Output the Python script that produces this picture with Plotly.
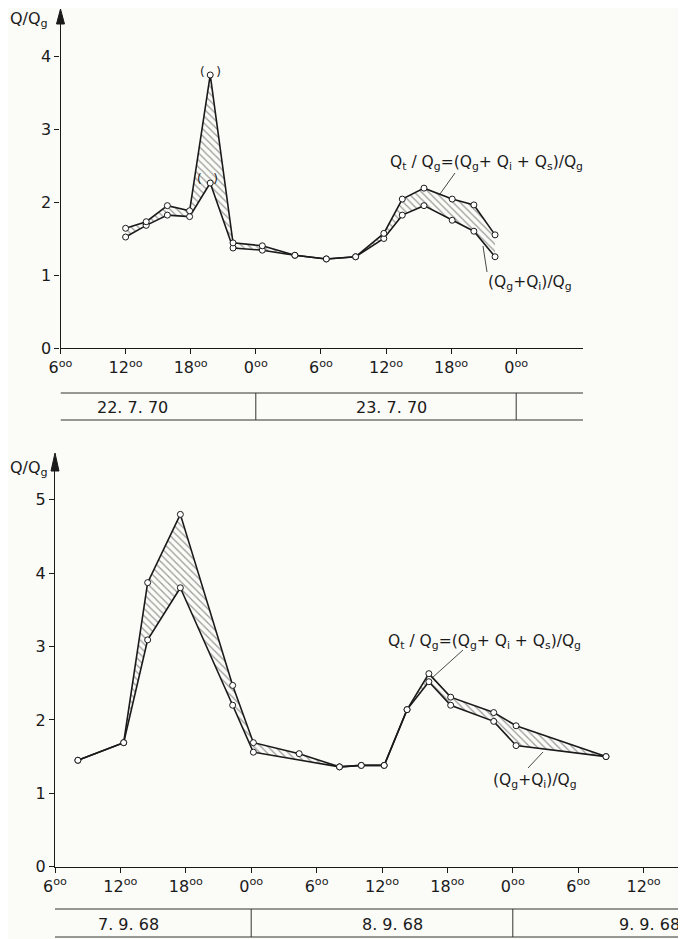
import plotly.graph_objects as go

# ---------------- data ----------------
# Top chart (22.7.70 - 23.7.70), hours counted from 0:00 of 22.7.70
top_hours = [12.0, 13.9, 15.85, 17.9, 19.8, 21.9, 24.6, 27.6, 30.5, 33.2, 35.8, 37.5, 39.5, 42.1, 44.1, 46.05]
top_lower = [1.52, 1.68, 1.82, 1.80, 2.26, 1.37, 1.34, 1.27, 1.22, 1.25, 1.50, 1.82, 1.95, 1.75, 1.60, 1.25]
top_upper = [1.64, 1.73, 1.95, 1.88, 3.74, 1.44, 1.40, 1.27, 1.22, 1.25, 1.57, 2.04, 2.19, 2.04, 1.96, 1.55]

# Bottom chart (7.9.68 - 9.9.68), hours counted from 0:00 of 7.9.68
bot_lower_hours = [8.1, 12.3, 14.5, 17.5, 22.3, 24.2, 32.1, 34.1, 36.2, 38.3, 40.3, 42.3, 46.25, 48.3, 56.55]
bot_lower = [1.45, 1.69, 3.09, 3.80, 2.20, 1.56, 1.36, 1.38, 1.38, 2.14, 2.52, 2.20, 1.98, 1.65, 1.50]
bot_upper_hours = [8.1, 12.3, 14.5, 17.5, 22.3, 24.2, 28.4, 32.1, 34.1, 36.2, 38.3, 40.3, 42.3, 46.25, 48.3, 56.55]
bot_upper = [1.45, 1.69, 3.87, 4.80, 2.47, 1.69, 1.54, 1.36, 1.38, 1.38, 2.14, 2.63, 2.31, 2.10, 1.92, 1.50]

top_tickvals = [6, 12, 18, 24, 30, 36, 42, 48]
top_ticklabels = ["6", "12", "18", "0", "6", "12", "18", "0"]
bot_tickvals = [6, 12, 18, 24, 30, 36, 42, 48, 54, 60]
bot_ticklabels = ["6", "12", "18", "0", "6", "12", "18", "0", "6", "12"]

top_dates = ["22. 7. 70", "23. 7. 70"]
top_date_pos = [12.6, 36.5]
top_day_breaks = [24, 48]
bot_dates = ["7. 9. 68", "8. 9. 68", "9. 9. 68"]
bot_date_pos = [12.7, 37.0, 60.5]
bot_day_breaks = [24, 48]

upper_label = "Q<sub>t</sub> / Q<sub>g</sub>=(Q<sub>g</sub>+ Q<sub>i</sub> + Q<sub>s</sub>)/Q<sub>g</sub>"
lower_label = "(Q<sub>g</sub>+Q<sub>i</sub>)/Q<sub>g</sub>"
y_title = "Q/Q<sub>g</sub>"

# ---------------- layout helpers ----------------
W, H = 686, 939
OFF = 8  # page body margin offset
def px(x):
    return (x - OFF) / W
def py(y):
    return 1 - (y - OFF) / H

FONT = "DejaVu Sans"
INK = "#1a1a1a"

fig = go.Figure()

line_style = dict(color=INK, width=1.6)
marker_style = dict(symbol="circle", size=6, color="white", line=dict(color=INK, width=1))
hatch = dict(shape="\\", fgcolor="#3a3a3a", bgcolor="rgba(0,0,0,0)", size=5, solidity=0.25)

# top chart
fig.add_trace(go.Scatter(x=top_hours, y=top_lower, mode="lines+markers", line=line_style,
                         marker=marker_style, xaxis="x", yaxis="y", showlegend=False))
fig.add_trace(go.Scatter(x=top_hours, y=top_upper, mode="lines+markers", line=line_style,
                         marker=marker_style, fill="tonexty", fillcolor="rgba(0,0,0,0)",
                         fillpattern=hatch, xaxis="x", yaxis="y", showlegend=False))
# bottom chart
fig.add_trace(go.Scatter(x=bot_lower_hours, y=bot_lower, mode="lines+markers", line=line_style,
                         marker=marker_style, xaxis="x2", yaxis="y2", showlegend=False))
fig.add_trace(go.Scatter(x=bot_upper_hours, y=bot_upper, mode="lines+markers", line=line_style,
                         marker=marker_style, fill="tonexty", fillcolor="rgba(0,0,0,0)",
                         fillpattern=hatch, xaxis="x2", yaxis="y2", showlegend=False))

# axis geometry (pixels)
T_X0, T_PXH, T_XEND = 60.5, 10.85, 583
T_Y0, T_PXU, T_YTOP = 348, 73.0, 22
B_X0, B_PXH, B_XEND = 55, 10.9, 686
B_Y0, B_PXU, B_YTOP = 866.7, 73.4, 470

def sup_labels(lbls):
    return [f"{l}<sup>oo</sup>" for l in lbls]

axis_common = dict(showgrid=False, zeroline=False, showline=True, linecolor=INK, linewidth=1.3,
                   ticks="outside", ticklen=5, tickcolor=INK, tickwidth=1.2, automargin=False,
                   tickfont=dict(family=FONT, size=16, color=INK))

fig.update_layout(
    width=W, height=H,
    margin=dict(l=0, r=0, t=0, b=0, pad=0, autoexpand=False),
    paper_bgcolor="#fbfbf8", plot_bgcolor="rgba(0,0,0,0)",
    xaxis=dict(domain=[px(T_X0), px(T_XEND)], range=[6, 6 + (T_XEND - T_X0) / T_PXH],
               tickmode="array", tickvals=top_tickvals, ticktext=sup_labels(top_ticklabels),
               anchor="y", **axis_common),
    yaxis=dict(domain=[py(T_Y0), py(T_YTOP)], range=[0, (T_Y0 - T_YTOP) / T_PXU],
               tickmode="array", tickvals=[0, 1, 2, 3, 4], anchor="x", **axis_common),
    xaxis2=dict(domain=[px(B_X0), min(1.0, px(B_XEND))], range=[6, 6 + (B_XEND - B_X0) / B_PXH],
                tickmode="array", tickvals=bot_tickvals, ticktext=sup_labels(bot_ticklabels),
                anchor="y2", **axis_common),
    yaxis2=dict(domain=[py(B_Y0), py(B_YTOP)], range=[0, (B_Y0 - B_YTOP) / B_PXU],
                tickmode="array", tickvals=[0, 1, 2, 3, 4, 5], anchor="x2", **axis_common),
)

shapes = []
annotations = []

# y-axis arrows
def arrow(xpix, tip, base):
    return dict(type="path", xref="paper", yref="paper",
                path=f"M {px(xpix)} {py(tip)} L {px(xpix-4)} {py(base)} L {px(xpix+4)} {py(base)} Z",
                fillcolor=INK, line=dict(color=INK, width=1))
shapes.append(arrow(T_X0, 9, 24))
shapes.append(arrow(B_X0, 453, 471))

# date tables
def table(xref, x_start, x_end, y_top, y_bot, breaks, labels, label_pos, y_text):
    out = []
    for y in (y_top, y_bot):
        out.append(dict(type="line", xref=xref, yref="paper", x0=x_start, x1=x_end,
                        y0=py(y), y1=py(y), line=dict(color="#333333", width=1)))
    for b in breaks:
        out.append(dict(type="line", xref=xref, yref="paper", x0=b, x1=b,
                        y0=py(y_top), y1=py(y_bot), line=dict(color="#333333", width=1)))
    ann = [dict(x=p, y=py(y_text), xref=xref, yref="paper", text=t, showarrow=False,
                xanchor="center", yanchor="middle",
                font=dict(family=FONT, size=16, color=INK)) for t, p in zip(labels, label_pos)]
    return out, ann

s, a = table("x", 6, 6 + (T_XEND - T_X0) / T_PXH, 393, 420, top_day_breaks, top_dates, top_date_pos, 407)
shapes += s; annotations += a
s, a = table("x2", 6, 6 + (B_XEND - B_X0) / B_PXH, 909, 937, bot_day_breaks, bot_dates, bot_date_pos, 924)
shapes += s; annotations += a

# y titles
annotations.append(dict(x=px(8), y=py(20), xref="paper", yref="paper", text=y_title, showarrow=False,
                        xanchor="left", yanchor="middle", font=dict(family=FONT, size=16, color=INK)))
annotations.append(dict(x=px(8), y=py(468), xref="paper", yref="paper", text=y_title, showarrow=False,
                        xanchor="left", yanchor="middle", font=dict(family=FONT, size=16, color=INK)))

# curve labels + leader lines
def label(x, y, text):
    return dict(x=px(x), y=py(y), xref="paper", yref="paper", text=text, showarrow=False,
                xanchor="left", yanchor="middle", font=dict(family=FONT, size=15.5, color=INK))
def leader(x0, y0, x1, y1):
    return dict(type="line", xref="paper", yref="paper", x0=px(x0), y0=py(y0), x1=px(x1), y1=py(y1),
                line=dict(color=INK, width=0.8))

annotations.append(label(388, 163, upper_label))
shapes.append(leader(455, 173, 440, 194))
annotations.append(label(486, 283, lower_label))
shapes.append(leader(487, 272, 483, 246))

annotations.append(label(386, 642, upper_label))
shapes.append(leader(463, 650, 432, 678))
annotations.append(label(491, 781, lower_label))
shapes.append(leader(528, 768, 543, 752))

# parentheses around questionable points (top chart)
annotations.append(dict(x=19.8, y=3.74, xref="x", yref="y", text="(   )", showarrow=False,
                        xanchor="center", yanchor="middle",
                        yshift=3, font=dict(family=FONT, size=12, color=INK)))
annotations.append(dict(x=19.8, y=2.26, xref="x", yref="y", text="(   )", showarrow=False,
                        xanchor="center", yanchor="middle",
                        xshift=-3, yshift=4, font=dict(family=FONT, size=12, color=INK)))

fig.update_layout(shapes=shapes, annotations=annotations)

fig.write_html("out.html")
